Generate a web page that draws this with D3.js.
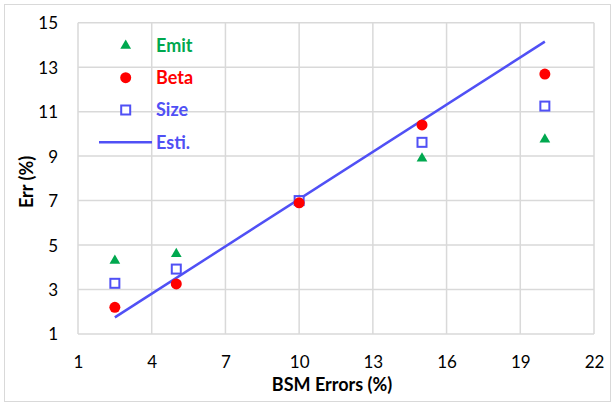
<!DOCTYPE html>
<html>
<head>
<meta charset="utf-8">
<script src="https://cdn.jsdelivr.net/npm/d3@7"></script>
<style>
  html, body { margin: 0; padding: 0; background: #fff; }
  svg { display: block; }
  text { font-family: Lato, "Open Sans", sans-serif; }
</style>
</head>
<body>
<svg id="chart" width="615" height="403"></svg>
<script>
// ---- data ----
const bsmErrors = [2.5, 5, 10, 15, 20];
const emit = [4.30, 4.60, 7.00, 8.90, 9.75];
const beta = [2.20, 3.25, 6.90, 10.40, 12.69];
const size = [3.28, 3.92, 7.00, 9.62, 11.25];
const estiX = [2.5, 20];
const estiY = [1.75, 14.15];
const xTicks = [1, 4, 7, 10, 13, 16, 19, 22];
const yTicks = [1, 3, 5, 7, 9, 11, 13, 15];
const seriesNames = ["Emit", "Beta", "Size", "Esti."];

const colors = { Emit: "#00A84F", Beta: "#FF0000", Size: "#5050F5", "Esti.": "#5050F5" };

const svg = d3.select("#chart");
const W = 615, H = 403;
const plot = { left: 78, right: 594, top: 22.7, bottom: 334 };

// outer border
svg.append("rect").attr("x", 4.5).attr("y", 4.5).attr("width", W - 9).attr("height", H - 6)
  .attr("fill", "#fff").attr("stroke", "#D9D9D9").attr("stroke-width", 1);

const x = d3.scaleLinear().domain([1, 22]).range([plot.left, plot.right]);
const y = d3.scaleLinear().domain([1, 15]).range([plot.bottom, plot.top]);

// grid
const grid = svg.append("g");
grid.selectAll("line.v").data(xTicks).join("line")
  .attr("x1", d => x(d)).attr("x2", d => x(d))
  .attr("y1", plot.top).attr("y2", plot.bottom)
  .attr("stroke", "#D9D9D9").attr("stroke-width", 1.5);
grid.selectAll("line.h").data(yTicks).join("line")
  .attr("y1", d => y(d)).attr("y2", d => y(d))
  .attr("x1", plot.left).attr("x2", plot.right)
  .attr("stroke", "#D9D9D9").attr("stroke-width", 1.5);

// axes (labels only)
const xAxis = d3.axisBottom(x).tickValues(xTicks).tickSize(0).tickPadding(0).tickFormat(d3.format("d"));
const gx = svg.append("g").attr("transform", `translate(0,${plot.bottom})`).call(xAxis);
gx.select(".domain").remove();
gx.selectAll("text").attr("y", 28).attr("dy", "0.35em")
  .style("font-size", "17px").attr("fill", "#000");

const yAxis = d3.axisLeft(y).tickValues(yTicks).tickSize(0).tickPadding(0).tickFormat(d3.format("d"));
const gy = svg.append("g").attr("transform", `translate(${plot.left},0)`).call(yAxis);
gy.select(".domain").remove();
gy.selectAll("text").attr("x", -20).attr("dy", "0.35em")
  .style("font-size", "17px").attr("fill", "#000");

// axis titles
svg.append("text").attr("x", 332).attr("y", 385).attr("dy", "0.35em")
  .attr("text-anchor", "middle").style("font-size", "18px").style("font-weight", "bold")
  .text("BSM Errors (%)");
svg.append("text").attr("transform", "translate(27,182) rotate(-90)").attr("dy", "0.35em")
  .attr("text-anchor", "middle").style("font-size", "18px").style("font-weight", "bold")
  .text("Err (%)");

// Esti line
const lineData = estiX.map((d, i) => [d, estiY[i]]);
svg.append("path").datum(lineData)
  .attr("d", d3.line().x(d => x(d[0])).y(d => y(d[1])))
  .attr("stroke", colors["Esti."]).attr("stroke-width", 2.5).attr("fill", "none");

// markers
const tri = d3.symbol().type(d3.symbolTriangle).size(50);
const emitPts = bsmErrors.map((d, i) => [d, emit[i]]);
const betaPts = bsmErrors.map((d, i) => [d, beta[i]]);
const sizePts = bsmErrors.map((d, i) => [d, size[i]]);

svg.append("g").selectAll("path").data(emitPts).join("path")
  .attr("d", tri).attr("transform", d => `translate(${x(d[0])},${y(d[1])})`)
  .attr("fill", colors.Emit);
svg.append("g").selectAll("rect").data(sizePts).join("rect")
  .attr("x", d => x(d[0]) - 4.5).attr("y", d => y(d[1]) - 4.5)
  .attr("width", 9).attr("height", 9)
  .attr("fill", "#fff").attr("stroke", colors.Size).attr("stroke-width", 2);
svg.append("g").selectAll("circle").data(betaPts).join("circle")
  .attr("cx", d => x(d[0])).attr("cy", d => y(d[1])).attr("r", 5.5)
  .attr("fill", colors.Beta);

// legend
const leg = svg.append("g");
const legY = [45.7, 77.7, 110, 142.3];
const legMarkX = 125.7, legTextX = 156;
seriesNames.forEach((name, i) => {
  const cy = legY[i];
  if (name === "Emit") {
    leg.append("path").attr("d", tri).attr("transform", `translate(${legMarkX},${cy})`).attr("fill", colors.Emit);
  } else if (name === "Beta") {
    leg.append("circle").attr("cx", legMarkX).attr("cy", cy).attr("r", 5.5).attr("fill", colors.Beta);
  } else if (name === "Size") {
    leg.append("rect").attr("x", legMarkX - 4.5).attr("y", cy - 4.5).attr("width", 9).attr("height", 9)
      .attr("fill", "#fff").attr("stroke", colors.Size).attr("stroke-width", 2);
  } else {
    leg.append("line").attr("x1", 99).attr("x2", 152).attr("y1", cy).attr("y2", cy)
      .attr("stroke", colors[name]).attr("stroke-width", 2.5);
  }
  leg.append("text").attr("x", legTextX).attr("y", cy).attr("dy", "0.35em")
    .style("font-size", "18px").style("font-weight", "bold").attr("fill", colors[name])
    .text(name);
});
</script>
</body>
</html>
